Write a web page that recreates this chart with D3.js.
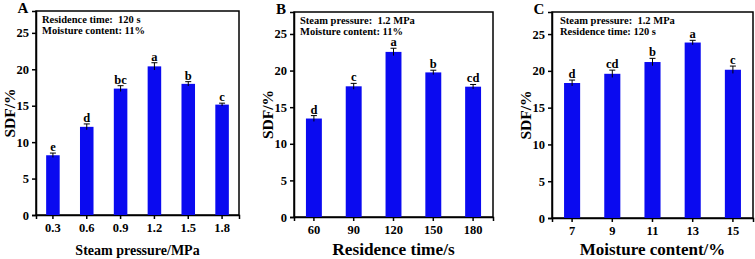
<!DOCTYPE html>
<html>
<head>
<meta charset="utf-8">
<script src="https://cdn.jsdelivr.net/npm/d3@7"></script>
<style>
  body { margin: 0; background: #fff; }
  text { font-family: "Liberation Serif", "Times New Roman", serif; font-weight: bold; fill: #000; }
</style>
</head>
<body>
<svg id="chart" width="755" height="259"></svg>
<script>
// panel A: steam pressure
const pressureCats = ["0.3", "0.6", "0.9", "1.2", "1.5", "1.8"];
const pressureSdf = [8.2, 12.1, 17.35, 20.4, 18.0, 15.15];
const pressureErr = [0.3, 0.4, 0.4, 0.5, 0.3, 0.2];
const pressureSig = ["e", "d", "bc", "a", "b", "c"];

// panel B: residence time
const timeCats = ["60", "90", "120", "150", "180"];
const timeSdf = [13.45, 17.85, 22.55, 19.75, 17.8];
const timeErr = [0.4, 0.4, 0.5, 0.3, 0.3];
const timeSig = ["d", "c", "a", "b", "cd"];

// panel C: moisture content
const moistCats = ["7", "9", "11", "13", "15"];
const moistSdf = [18.35, 19.6, 21.2, 23.85, 20.15];
const moistErr = [0.4, 0.5, 0.5, 0.3, 0.5];
const moistSig = ["d", "cd", "b", "a", "c"];

const yTicks = [0, 5, 10, 15, 20, 25];

const svg = d3.select("#chart");

const panels = [
    { letter: "A", cats: pressureCats, vals: pressureSdf, errs: pressureErr, sig: pressureSig,
      info: ["Residence time:  120 s", "Moisture content: 11%"], xTitle: "Steam pressure/MPa",
      x0: 36, x1: 239, y0: 11, y1: 215, titleSize: 14 },
    { letter: "B", cats: timeCats, vals: timeSdf, errs: timeErr, sig: timeSig,
      info: ["Steam pressure:  1.2 MPa", "Moisture content: 11%"], xTitle: "Residence time/s",
      x0: 294, x1: 493, y0: 12, y1: 217, titleSize: 17.3 },
    { letter: "C", cats: moistCats, vals: moistSdf, errs: moistErr, sig: moistSig,
      info: ["Steam pressure:  1.2 MPa", "Residence time: 120 s"], xTitle: "Moisture content/%",
      x0: 552, x1: 753, y0: 12, y1: 218, titleSize: 17 }
];

panels.forEach(drawPanel);

function drawPanel(p) {
    const g = svg.append("g");

    const x = d3.scaleBand()
        .domain(p.cats)
        .range([p.x0, p.x1])
        .paddingInner(0.6)
        .paddingOuter(0.3);

    const y = d3.scaleLinear()
        .domain([0, 28])
        .range([p.y1, p.y0]);

    // frame
    g.append("rect")
        .attr("x", p.x0).attr("y", p.y0)
        .attr("width", p.x1 - p.x0).attr("height", p.y1 - p.y0)
        .attr("fill", "none").attr("stroke", "#000").attr("stroke-width", 1.5);

    const yAxis = g.append("g")
        .attr("transform", "translate(" + p.x0 + ",0)")
        .call(d3.axisLeft(y).tickValues(yTicks).tickSize(4).tickPadding(3));
    const xAxis = g.append("g")
        .attr("transform", "translate(0," + p.y1 + ")")
        .call(d3.axisBottom(x).tickSize(4).tickPadding(4));

    [yAxis, xAxis].forEach(a => {
        a.select(".domain").attr("stroke-width", 1.5);
        a.selectAll(".tick line").attr("stroke-width", 1.5);
        a.selectAll("text").attr("font-size", 12.5).attr("font-family", null);
    });

    const rows = p.cats.map((c, i) => ({ c: c, v: p.vals[i], e: p.errs[i], s: p.sig[i] }));

    g.selectAll(".bar").data(rows).enter().append("rect")
        .attr("x", d => x(d.c))
        .attr("y", d => y(d.v))
        .attr("width", x.bandwidth())
        .attr("height", d => y(0) - y(d.v))
        .attr("fill", "#0a0af0");

    const cx = d => x(d.c) + x.bandwidth() / 2;
    const err = g.selectAll(".err").data(rows).enter().append("g").attr("stroke", "#000").attr("stroke-width", 1);
    err.append("line").attr("x1", cx).attr("x2", cx).attr("y1", d => y(d.v + d.e)).attr("y2", d => y(d.v - d.e));
    err.append("line").attr("x1", d => cx(d) - 3).attr("x2", d => cx(d) + 3).attr("y1", d => y(d.v + d.e)).attr("y2", d => y(d.v + d.e));

    g.selectAll(".sig").data(rows).enter().append("text")
        .attr("x", cx)
        .attr("y", d => y(d.v + d.e) - 2)
        .attr("text-anchor", "middle")
        .attr("font-size", 12.5)
        .text(d => d.s);

    // condition notes
    g.selectAll(".info").data(p.info).enter().append("text")
        .attr("x", p.x0 + (p.letter === "C" ? 8 : 6))
        .attr("y", (d, i) => p.y0 + 11.5 + i * 11.5)
        .attr("font-size", 10.5)
        .style("white-space", "pre")
        .text(d => d);

    g.append("text")
        .attr("x", p.x0 - 13).attr("y", p.y0 + 2)
        .attr("text-anchor", "middle")
        .attr("font-size", 15)
        .text(p.letter);

    g.append("text")
        .attr("transform", "translate(" + (p.x0 - 21) + "," + ((p.y0 + p.y1) / 2) + ") rotate(-90)")
        .attr("text-anchor", "middle")
        .attr("font-size", 15.5)
        .text("SDF/%");

    g.append("text")
        .attr("x", (p.x0 + p.x1) / 2).attr("y", 255)
        .attr("text-anchor", "middle")
        .attr("font-size", p.titleSize)
        .text(p.xTitle);
}
</script>
</body>
</html>
